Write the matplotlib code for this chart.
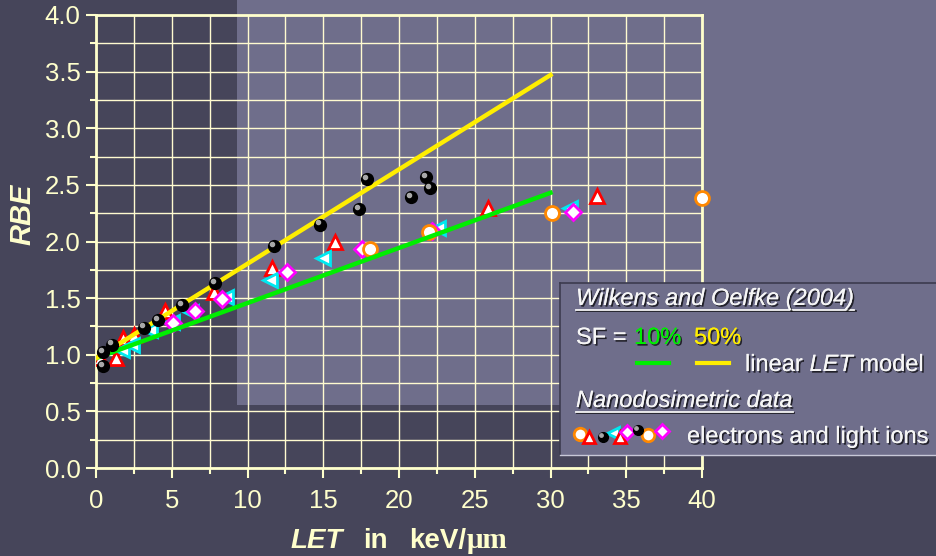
import matplotlib
matplotlib.use("Agg")
import matplotlib.pyplot as plt
import matplotlib.patheffects as pe
from matplotlib.patches import Rectangle
from matplotlib.lines import Line2D
from matplotlib.ticker import MultipleLocator, FormatStrFormatter
from matplotlib.transforms import offset_copy

# linear LET model (Wilkens & Oelfke 2004)
fit_let = [0, 30]
fit_sf10 = [0.97, 2.43]
fit_sf50 = [0.97, 3.47]

# nanodosimetric data
black_let = [0.46, 0.46, 1.06, 3.17, 4.09, 5.68, 7.85, 11.75, 14.8, 17.36, 17.89, 20.79, 21.78, 22.05]
black_rbe = [0.90, 1.02, 1.09, 1.24, 1.31, 1.44, 1.63, 1.96, 2.15, 2.29, 2.55, 2.39, 2.57, 2.47]

red_let = [0.26, 1.32, 1.78, 2.5, 4.55, 7.8, 11.6, 15.8, 25.9, 33.1]
red_rbe = [0.97, 0.97, 1.15, 1.17, 1.39, 1.55, 1.77, 2.0, 2.30, 2.40]

cyan_let = [1.72, 2.38, 3.56, 5.0, 6.27, 8.58, 11.5, 15.0, 22.6, 31.3]
cyan_rbe = [1.04, 1.09, 1.22, 1.29, 1.38, 1.51, 1.66, 1.85, 2.12, 2.30]

mag_let = [5.08, 6.53, 8.3, 12.6, 17.55, 22.2, 31.5]
mag_rbe = [1.28, 1.39, 1.49, 1.73, 1.93, 2.09, 2.26]

orange_let = [18.1, 22.0, 30.1, 40.0]
orange_rbe = [1.93, 2.08, 2.25, 2.38]

W, H = 936, 556
dark = "#46455a"
light = "#6f6e8b"
cream = "#ffffcc"
font = "Liberation Sans"


def px(x, y):
    return x / W, 1 - y / H


fig = plt.figure(figsize=(W / 100, H / 100), dpi=100, facecolor=dark)
renderer = fig.canvas.get_renderer()
fig.add_artist(Rectangle(px(237, 405), 1 - 237 / W, 405 / H, transform=fig.transFigure,
                         facecolor=light, edgecolor="none", zorder=-10))

ax = fig.add_axes([96 / W, 1 - 468 / H, 606 / W, 453 / H])
ax.set_facecolor("none")
ax.set_axisbelow(True)

ax.set_xlim(0, 40)
ax.set_ylim(0, 4)
ax.xaxis.set_major_locator(MultipleLocator(5))
ax.xaxis.set_minor_locator(MultipleLocator(2.5))
ax.yaxis.set_major_locator(MultipleLocator(0.5))
ax.yaxis.set_minor_locator(MultipleLocator(0.25))
ax.yaxis.set_major_formatter(FormatStrFormatter("%.1f"))
ax.grid(which="both", color="#fffbd0", lw=1)
for s in ax.spines.values():
    s.set_color(cream)
    s.set_linewidth(2)
ax.tick_params(which="major", length=7, width=1.5, color=cream, labelcolor=cream,
               labelsize=18.5, direction="out")
ax.tick_params(which="minor", length=4, width=1.5, color=cream)
ax.tick_params(axis="x", which="major", pad=8)
ax.tick_params(axis="y", which="major", pad=4)
for lab in ax.get_xticklabels() + ax.get_yticklabels():
    lab.set_fontfamily(font)

# fit lines
ax.plot(fit_let, fit_sf10, color="#00ee00", lw=3.2, zorder=4)
ax.plot(fit_let, fit_sf50, color="#ffee00", lw=3.2, zorder=4)

# open markers
ax.plot(red_let, red_rbe, "^", ms=10.5, mfc="white", mec="#ff0000", mew=2, ls="none", zorder=3)
ax.plot(cyan_let, cyan_rbe, "<", ms=10.5, mfc="white", mec="#00e8f0", mew=2, ls="none", zorder=3)
ax.plot(mag_let, mag_rbe, "D", ms=8, mfc="white", mec="#ff00ff", mew=2, ls="none", zorder=3)
ax.plot(orange_let, orange_rbe, "o", ms=10, mfc="white", mec="#ff8800", mew=2, ls="none",
        zorder=3, clip_on=False)


def spheres(axis, x, y, ms, z, transform=None):
    tr = transform if transform is not None else axis.transData
    axis.plot(x, y, "o", ms=ms, color="black", ls="none", zorder=z, transform=tr, clip_on=False)
    hl = offset_copy(tr, fig=fig, x=-1.3, y=1.5, units="points")
    axis.plot(x, y, "o", ms=ms * 0.35, color="#a8a8a8", ls="none", zorder=z + 0.1,
              transform=hl, clip_on=False)


spheres(ax, black_let, black_rbe, 8.5, 5)


def row(x, y, pieces, size, **common):
    """Lay out text pieces left to right starting at pixel (x, y), y being the baseline."""
    boxes = []
    for s, gap, kw in pieces:
        x += gap
        opts = dict(common)
        opts.setdefault("fontsize", size)
        opts.update(kw)
        t = fig.text(x / W, 1 - y / H, s, va="baseline", **opts)
        bb = t.get_window_extent(renderer)
        boxes.append(bb)
        x = bb.x1
    return boxes


# axis labels
fig.text(22 / W, 1 - 214 / H, "RBE", rotation=90, ha="center", va="center", color=cream,
         fontsize=21, fontweight="bold", fontstyle="italic", family=font)
row(291, 548, [("LET", 0, dict(fontstyle="italic")),
               ("in", 20, {}),
               ("keV/", 21, {}),
               ("\u03bcm", 0, dict(family="Liberation Serif", fontsize=21))],
    20, color=cream, fontweight="bold", family=font)

# legend box
fig.add_artist(Rectangle(px(560, 455), 1 - 560 / W, (455 - 283) / H, transform=fig.transFigure,
                         facecolor=light, edgecolor="none", zorder=20))
fig.add_artist(Line2D([560 / W, 1], [1 - 283 / H] * 2, transform=fig.transFigure,
                      color="#3c3b4e", lw=1.2, zorder=21))
fig.add_artist(Line2D([560 / W] * 2, [1 - 283 / H, 1 - 455 / H], transform=fig.transFigure,
                      color="#3c3b4e", lw=1.2, zorder=21))
fig.add_artist(Line2D([560 / W, 1], [1 - 455 / H] * 2, transform=fig.transFigure,
                      color="#c8c8d8", lw=1, zorder=21))

shadow = [pe.withSimplePatchShadow(offset=(1.2, -1.2), shadow_rgbFace="black", alpha=0.7),
          pe.Normal()]
lsize = 17
legend_text = dict(color="#f6f6f6", family=font, zorder=22, path_effects=shadow)


def uline(bb, y):
    fig.add_artist(Line2D([bb.x0 / W, bb.x1 / W], [1 - y / H] * 2, transform=fig.transFigure,
                          color="#f6f6f6", lw=1.3, zorder=22,
                          path_effects=[pe.SimpleLineShadow(offset=(1, -1), shadow_color="black",
                                                            alpha=0.7), pe.Normal()]))


bb = row(576, 305, [("Wilkens and Oelfke (2004)", 0, dict(fontstyle="italic"))], lsize, **legend_text)
uline(bb[0], 310)
row(576, 344, [("SF = ", 0, {})], lsize, **legend_text)
row(634, 344, [("10%", 0, dict(color="#00ee00"))], lsize, **legend_text)
row(694, 344, [("50%", 0, dict(color="#ffee00"))], lsize, **legend_text)
fig.add_artist(Line2D([637 / W, 669 / W], [1 - 363 / H] * 2, transform=fig.transFigure,
                      color="#00ee00", lw=3, zorder=22))
fig.add_artist(Line2D([697 / W, 729 / W], [1 - 363 / H] * 2, transform=fig.transFigure,
                      color="#ffee00", lw=3, zorder=22))
sp = 0.278 * lsize * 100 / 72
row(745, 371, [("linear", 0, {}), ("LET", sp, dict(fontstyle="italic")), ("model", sp, {})],
    lsize, **legend_text)
bb = row(576, 407, [("Nanodosimetric data", 0, dict(fontstyle="italic"))], lsize, **legend_text)
uline(bb[0], 412)
row(687, 443, [("electrons and light ions", 0, {})], lsize, **legend_text)

# legend symbols
lax = fig.add_axes([0, 0, 1, 1], zorder=25)
lax.set_xlim(0, W)
lax.set_ylim(H, 0)
lax.axis("off")
lax.plot([580], [434], "o", ms=9, mfc="white", mec="#ff8800", mew=2)
lax.plot([613], [433], "<", ms=9, mfc="white", mec="#00e8f0", mew=2)
lax.plot([589, 620], [437, 437], "^", ms=9, mfc="white", mec="#ff0000", mew=2, ls="none")
lax.plot([627], [432], "D", ms=7, mfc="white", mec="#ff00ff", mew=2)
lax.plot([648], [435], "o", ms=9, mfc="white", mec="#ff8800", mew=2)
lax.plot([662], [431], "D", ms=7, mfc="white", mec="#ff00ff", mew=2)
spheres(lax, [603, 638], [437, 430], 7, 26)

fig.savefig("out.png", dpi=100, facecolor=dark)
